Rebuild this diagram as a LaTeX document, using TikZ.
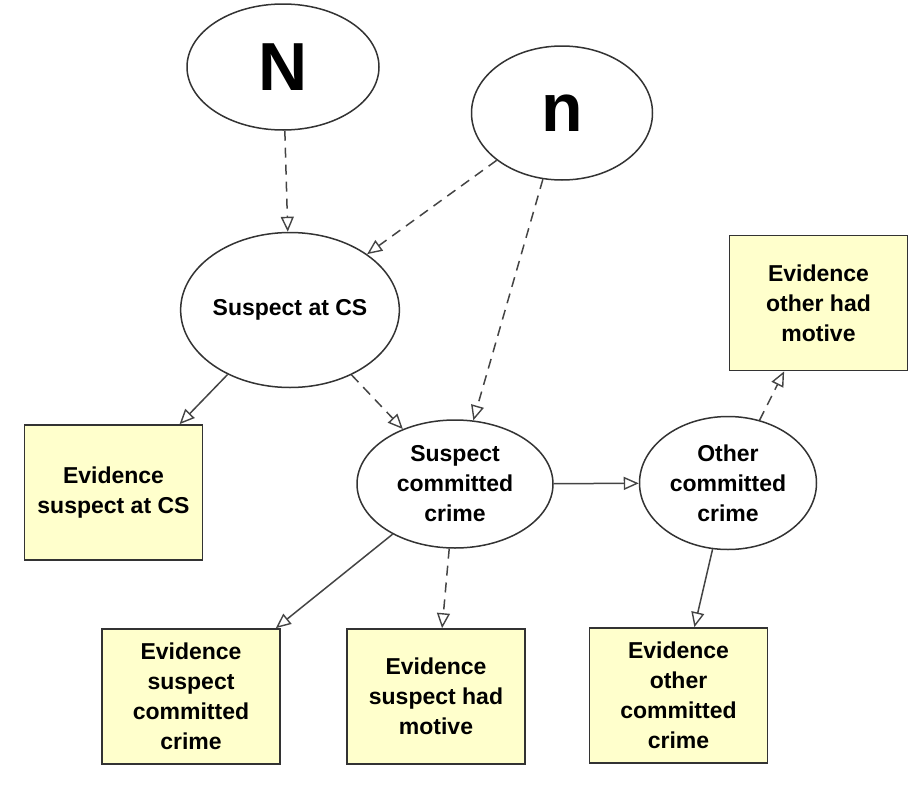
\documentclass[tikz,border=0pt]{standalone}
\usepackage{fontspec}
\setmainfont{Liberation Sans}
\usetikzlibrary{shapes.geometric,arrows.meta}
\definecolor{boxfill}{HTML}{FFFFCC}
\definecolor{linegray}{HTML}{444444}
\definecolor{bordergray}{HTML}{333333}
\tikzset{
  bnode/.style={ellipse,draw=bordergray,line width=1.5pt,fill=white,inner sep=0pt,align=center,
     font=\fontsize{23}{30}\selectfont\bfseries},
  bigletter/.style={ellipse,draw=bordergray,line width=1.5pt,fill=white,inner sep=0pt,
     font=\fontsize{68}{68}\selectfont\bfseries},
  evbox/.style={rectangle,draw=bordergray,line width=1.7pt,fill=boxfill,inner sep=0pt,align=center,
     minimum width=178pt,minimum height=135pt,font=\fontsize{23}{30}\selectfont\bfseries},
  conn/.style={draw=linegray,line width=1.5pt,-{Triangle[open,length=15pt,width=13pt,line width=1.4pt]}},
  dconn/.style={conn,dash pattern=on 10pt off 7pt}
}
\begin{document}
\begin{tikzpicture}[x=1pt,y=-1pt]
\useasboundingbox (0,0) rectangle (922,785);
% nodes
\node[bigletter,minimum width=192pt,minimum height=126pt] (N) at (283,67) {N};
\node[bigletter,minimum width=181pt,minimum height=134pt] (n) at (562,113) {n};
\node[bnode,minimum width=196pt,minimum height=155pt] (cs) at (290,310) {Suspect at CS};
\node[bnode,minimum width=196pt,minimum height=128pt] (sc) at (455,484) {Suspect\\committed\\crime};
\node[bnode,minimum width=177pt,minimum height=133pt] (oc) at (728,483) {Other\\committed\\crime};
\node[evbox] (ecs) at (113.5,492.5) {Evidence\\suspect at CS};
\node[evbox] (eom) at (818.5,303) {Evidence\\other had\\motive};
\node[evbox] (esc) at (191,696.5) {Evidence\\suspect\\committed\\crime};
\node[evbox] (esm) at (436,696.5) {Evidence\\suspect had\\motive};
\node[evbox] (eoc) at (678.5,695.5) {Evidence\\other\\committed\\crime};
% connectors
\draw[dconn] (N) -- (cs);
\draw[dconn] (n) -- (cs);
\draw[dconn] (n) -- (sc);
\draw[conn] (cs) -- (ecs);
\draw[dconn] (cs) -- (sc);
\draw[conn] (sc) -- (oc);
\draw[dconn] (oc) -- (eom);
\draw[conn] (sc) -- (esc);
\draw[dconn] (sc) -- (esm);
\draw[conn] (oc) -- (eoc);
\end{tikzpicture}
\end{document}
